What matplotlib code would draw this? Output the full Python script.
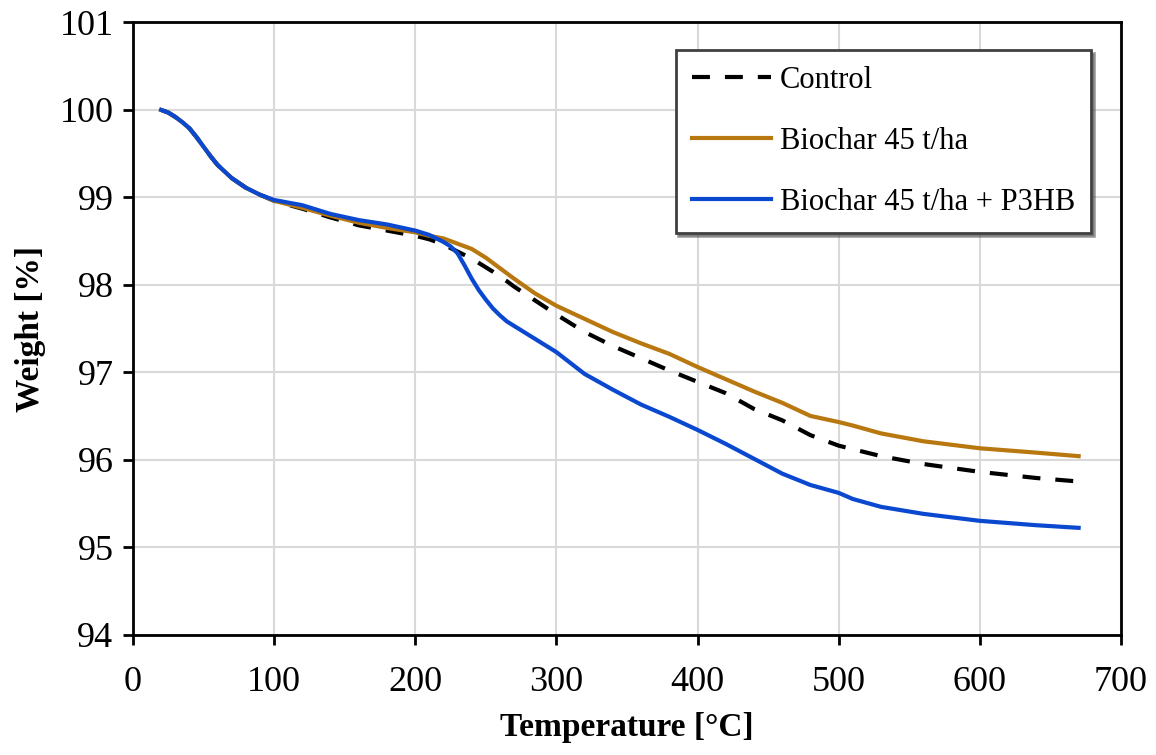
import matplotlib.pyplot as plt

# TGA curves
temperature = [20, 25, 30, 35, 40, 45, 50, 55, 60, 70, 80, 90, 100, 120, 140, 160,
               180, 200, 210, 220, 225, 230, 235, 240, 245, 250, 255, 260, 265, 270,
               285, 300, 320, 340, 360, 380, 400, 420, 440, 460, 480, 500, 510, 530,
               560, 600, 640, 670]

control = [100.0, 99.97, 99.92, 99.86, 99.79, 99.69, 99.58, 99.47, 99.37, 99.22,
           99.11, 99.03, 98.96, 98.87, 98.77, 98.68, 98.62, 98.56, 98.52, 98.46,
           98.42, 98.38, 98.34, 98.30, 98.25, 98.20, 98.15, 98.09, 98.04, 97.98,
           97.82, 97.66, 97.46, 97.30, 97.16, 97.02, 96.89, 96.76, 96.58, 96.45,
           96.28, 96.16, 96.12, 96.04, 95.95, 95.86, 95.79, 95.75]

biochar = [100.0, 99.97, 99.92, 99.86, 99.79, 99.69, 99.58, 99.47, 99.37, 99.22,
           99.11, 99.03, 98.96, 98.88, 98.79, 98.71, 98.65, 98.60, 98.56, 98.53,
           98.50, 98.47, 98.44, 98.41, 98.36, 98.31, 98.25, 98.19, 98.13, 98.07,
           97.90, 97.76, 97.61, 97.46, 97.33, 97.21, 97.06, 96.92, 96.78, 96.65,
           96.50, 96.43, 96.39, 96.30, 96.21, 96.13, 96.08, 96.04]

biochar_p3hb = [100.0, 99.97, 99.92, 99.86, 99.79, 99.69, 99.58, 99.47, 99.37, 99.22,
                99.11, 99.03, 98.97, 98.91, 98.81, 98.74, 98.69, 98.62, 98.57, 98.49,
                98.44, 98.36, 98.22, 98.07, 97.94, 97.83, 97.73, 97.65, 97.58, 97.53,
                97.38, 97.23, 96.98, 96.80, 96.63, 96.49, 96.34, 96.18, 96.01, 95.84,
                95.71, 95.62, 95.55, 95.46, 95.38, 95.30, 95.25, 95.22]

labels = ["Control", "Biochar 45 t/ha", "Biochar 45 t/ha + P3HB"]

plt.rcParams["font.family"] = ["Liberation Serif", "DejaVu Serif"]

fig = plt.figure(figsize=(11.56, 7.55), dpi=100)
ax = fig.add_axes([0.115, 0.1596, 0.8547, 0.8106])

ax.plot(temperature, control, color="black", lw=3, linestyle=(0, (4.3, 3.6)),
        dash_capstyle="butt", label=labels[0])
ax.plot(temperature, biochar, color="#B8770F", lw=3, label=labels[1])
ax.plot(temperature, biochar_p3hb, color="#0A48CF", lw=3, label=labels[2])

ax.set_xlim(0, 700)
ax.set_ylim(94, 101)
ax.set_xticks(range(0, 701, 100))
ax.set_yticks(range(94, 102))
ax.grid(True, color="#D9D9D9", lw=1.5)
ax.set_axisbelow(True)

for side in ["left", "bottom", "right", "top"]:
    ax.spines[side].set_linewidth(2)
    ax.spines[side].set_color("black")

ax.tick_params(axis="both", direction="out", length=7, width=2,
               labelsize=26, colors="black")
ax.tick_params(axis="x", pad=16)
ax.tick_params(axis="y", pad=7)

ax.set_xlabel("Temperature [°C]", fontsize=24, fontweight="bold", labelpad=9)
ax.set_ylabel("Weight [%]", fontsize=24, fontweight="bold", labelpad=10)

leg = ax.legend(loc="upper right", bbox_to_anchor=(0.970, 0.955),
                borderaxespad=0, fontsize=22, handlelength=2.6,
                labelspacing=1.05, handletextpad=0.3, borderpad=0.52,
                fancybox=False, shadow=True, framealpha=1)
leg.get_frame().set_edgecolor("#404040")
leg.get_frame().set_linewidth(2)

fig.savefig("out.png", dpi=100)
